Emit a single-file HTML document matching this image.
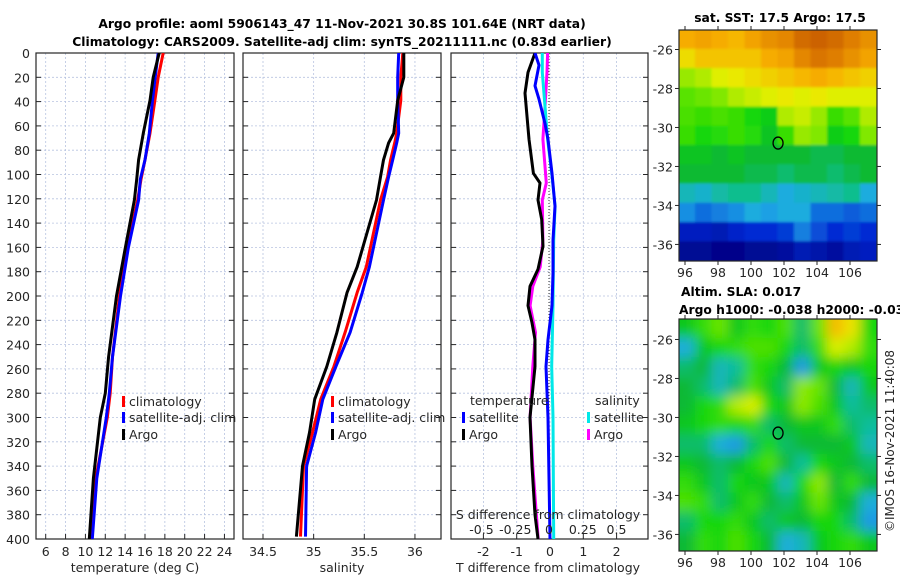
<!DOCTYPE html>
<html><head><meta charset="utf-8"><style>
body{margin:0;background:#fff;}
svg{display:block;font-family:"DejaVu Sans","Liberation Sans",sans-serif;}
</style></head><body>
<svg id="c" width="900" height="580" viewBox="0 0 900 580">
<defs>
<clipPath id="clp1"><rect x="36" y="53" width="198" height="486"/></clipPath>
<clipPath id="clp2"><rect x="243" y="53" width="198" height="486"/></clipPath>
<clipPath id="clp3"><rect x="451" y="53" width="197" height="486"/></clipPath>
<clipPath id="clpm1"><rect x="679" y="30" width="198" height="231"/></clipPath>
<clipPath id="clpm2"><rect x="679" y="319" width="198" height="232"/></clipPath>
<filter id="blur" x="-10%" y="-10%" width="120%" height="120%"><feGaussianBlur stdDeviation="6"/></filter>
<filter id="blur2" x="-10%" y="-10%" width="120%" height="120%"><feGaussianBlur stdDeviation="1.2"/></filter>
</defs>
<text x="342" y="28" text-anchor="middle" font-size="12.3" font-weight="bold">Argo profile: aoml 5906143_47 11-Nov-2021 30.8S 101.64E (NRT data)</text>
<text x="342" y="46" text-anchor="middle" font-size="12.3" font-weight="bold">Climatology: CARS2009. Satellite-adj clim: synTS_20211111.nc (0.83d earlier)</text>
<text x="780" y="22" text-anchor="middle" font-size="12.3" font-weight="bold">sat. SST: 17.5 Argo: 17.5</text>
<text x="681" y="296" font-size="12.3" font-weight="bold">Altim. SLA: 0.017</text>
<text x="679" y="314" font-size="12.3" font-weight="bold">Argo h1000: -0.038 h2000: -0.036</text>
<text x="0" y="0" transform="translate(894,441) rotate(-90)" text-anchor="middle" font-size="12" fill="#262626">©IMOS 16-Nov-2021 11:40:08</text>
<g id="g"></g>
</svg>
<script>
// ---- profile data ----
var tDepth = [0,20,39,66,88,104,121,160,200,250,280,300,350,400];
var tArgo = [17.43,16.83,16.5,15.83,15.36,15.16,14.93,14.03,13.13,12.33,12.0,11.5,10.8,10.39];
var tClim = [17.83,17.33,17.0,16.5,16.0,15.6,15.26,14.23,13.43,12.73,12.5,12.2,11.05,10.5];
var tSat = [17.33,17.03,16.76,16.43,16.0,15.53,15.36,14.33,13.53,12.73,12.4,12.1,11.15,10.69];
var sDepth = [0,20,39,66,74,88,102,121,176,197,230,258,285,312,340,398];
var sArgo = [35.89,35.89,35.83,35.79,35.74,35.69,35.66,35.62,35.43,35.33,35.23,35.13,35.01,34.96,34.89,34.83];
var sClim = [35.88,35.86,35.86,35.82,35.80,35.76,35.73,35.66,35.52,35.43,35.31,35.20,35.07,34.99,34.90,34.87];
var sSat = [35.84,35.83,35.83,35.84,35.82,35.78,35.74,35.69,35.55,35.48,35.36,35.22,35.09,35.02,34.93,34.92];
var dtArgoDepth = [0,16,33,71,99,107,121,137,159,178,192,208,222,236,258,300,340,380,400];
var dtArgo = [-0.45,-0.66,-0.75,-0.63,-0.5,-0.3,-0.36,-0.25,-0.21,-0.36,-0.6,-0.66,-0.54,-0.45,-0.45,-0.6,-0.54,-0.45,-0.36];
var dsArgoDepth = [0,16,44,71,107,121,154,176,192,208,230,258,300,340,400];
var dsArgo = [-0.01,-0.015,-0.03,-0.045,-0.02,-0.05,-0.045,-0.065,-0.12,-0.14,-0.10,-0.12,-0.14,-0.12,-0.08];
var dtSatDepth = [0,10,27,38,58,71,99,126,154,181,208,236,258,300,400];
var dtSat = [-0.45,-0.33,-0.45,-0.33,-0.15,-0.06,0.06,0.15,0.09,0.09,0.06,-0.06,-0.12,-0.06,0];
var dsSatDepth = [0,16,44,71,99,126,154,208,258,300,400];
var dsSat = [-0.05,-0.05,-0.03,-0.01,0.02,0.045,0.035,0.03,0.02,0.03,0.035];
var depthTicks = [0,20,40,60,80,100,120,140,160,180,200,220,240,260,280,300,320,340,360,380,400];
var tTicks = [6,8,10,12,14,16,18,20,22,24];
var sTicks = [34.5,35,35.5,36];
var dtTicks = [-2,-1,0,1,2];
var dsTicks = [-0.5,-0.25,0,0.25,0.5];
var dsTickLabels = ["-0.5","-0.25","0","0.25","0.5"];
var lonTicks = [96,98,100,102,104,106];
var latTicks = [-26,-28,-30,-32,-34,-36];
// ---- map grids (12 rows top->bottom, 12 cols west->east) ----
var sstGrid = [
[19.2,19.3,19.2,19.1,19.3,19.5,19.6,19.9,20,19.9,19.7,19.5],
[18.8,19,19,19,19,19.2,19.3,19.6,19.8,19.7,19.5,19.3],
[18.3,18.4,18.6,18.7,18.8,18.9,19,19.1,19.2,19.1,19,18.9],
[18,18.1,18.2,18.4,18.5,18.6,18.7,18.6,18.7,18.6,18.6,18.6],
[17.9,17.8,17.9,17.8,17.6,17.5,18.4,18.5,18.3,17.8,18,18.4],
[17.8,17.6,17.7,17.8,17.7,17.4,17.8,18.3,18.2,17.5,17.6,18.2],
[17.4,17.4,17.3,17.4,17.3,17.3,17.3,17.3,17.2,17.2,17.3,17.3],
[17.3,17.3,17.3,17.3,17.2,17.2,17.1,17.2,17.2,17.1,17.2,17.3],
[16.8,16.7,16.9,17,17,16.8,16.6,16.7,16.8,16.9,17,16.6],
[16.4,16.2,16.3,16.4,16.6,16.5,16.6,16.6,16.2,16.2,16.1,16.2],
[15.6,15.6,15.5,15.7,15.8,15.8,15.9,16.3,16,15.8,15.9,15.8],
[15.2,15.2,15.1,15.1,15.2,15.2,15.3,15.5,15.4,15.3,15.5,15.6]];
var slaGrid = [
[0.02,0.04,0.06,0.02,0.04,0.03,0.05,0.0,0.06,0.12,0.1,0.03],
[-0.03,0.02,0.03,0.04,0.05,0.05,0.03,0.0,0.04,0.09,0.08,0.04],
[0,0.01,-0.02,-0.01,0.04,0.03,0.01,-0.04,0.02,0.03,0.02,0.03],
[0.01,0.0,-0.02,0.0,0.05,0.02,0.0,0.07,0.06,0.01,-0.02,0.02],
[0.01,0.03,0.04,0.08,0.09,0.03,0.02,0.07,0.05,0.02,-0.01,0.0],
[0.02,0.03,0.04,0.03,0.04,0.0,0.01,0.02,0.02,0.04,0.0,-0.01],
[0.0,0.0,-0.03,-0.04,0.0,0.03,0.0,0.01,0.01,0.01,0.02,-0.02],
[0.02,0.01,0.0,0.01,0.03,0.05,0.01,-0.01,0.03,0.02,0.01,0.0],
[0.04,0.02,0.0,0.03,0.02,0.02,-0.02,0.03,0.07,0.01,0.04,0.01],
[0.05,0.04,0.0,0.02,0.04,0.01,0.0,0.02,0.06,0.02,0.01,-0.03],
[0.0,0.03,0.03,0.04,0.02,0.0,0.02,0.01,0.03,0.03,0.0,-0.04],
[0.01,0.04,0.03,0.05,0.03,0.01,-0.03,-0.02,0.02,0.03,0.04,0.02]];
var argoLon = 101.64, argoLat = -30.8;

var NS='http://www.w3.org/2000/svg';
var G=document.getElementById('g');
function el(tag,attrs,parent){var e=document.createElementNS(NS,tag);for(var k in attrs)e.setAttribute(k,attrs[k]);(parent||G).appendChild(e);return e;}
function txt(x,y,s,anchor,size,parent){var t=el('text',{x:x,y:y,'text-anchor':anchor||'middle','font-size':size||12,fill:'#262626'},parent);t.textContent=s;return t;}

var Y0=53,Y1=539;
function yD(d){return Y0+(d/400)*(Y1-Y0);}
function xT(t){return 45.7+(t-6)*9.93;}
function xS(s){return 263+(s-34.5)*101.3;}
function xDT(t){return 550+t*33.3;}
function xDS(s){return 549+s*135;}

function frame(x0,x1,name,vticks,vfn){
  var g=el('g',{});
  
  
  vticks.forEach(function(v){var x=vfn(v);
    var l=el('line',{x1:x,x2:x,y1:Y0,y2:Y1,stroke:'#b8c4e0','stroke-width':0.8,'stroke-dasharray':'2,2'},g);
    
    
    var tk=el('line',{x1:x,x2:x,y1:Y1,y2:Y1-5,stroke:'#262626','stroke-width':1},g);
    
    
  });
  depthTicks.forEach(function(d){var y=yD(d);
    var l=el('line',{x1:x0,x2:x1,y1:y,y2:y,stroke:'#b8c4e0','stroke-width':0.8,'stroke-dasharray':'2,2'},g);
    
    
    var t1=el('line',{x1:x0,x2:x0+5,y1:y,y2:y,stroke:'#262626'},g);
    
    
    var t2=el('line',{x1:x1-5,x2:x1,y1:y,y2:y,stroke:'#262626'},g);
    
    
  });
  var r=el('rect',{x:x0,y:Y0,width:x1-x0,height:Y1-Y0,fill:'none',stroke:'#262626','stroke-width':1.2},g);
  
  
  return g;
}
function line(xs,ds,xfn,color,name,clip,w){
  var p=xs.map(function(v,i){return xfn(v).toFixed(1)+','+yD(ds[i]).toFixed(1);}).join(' ');
  var pl=el('polyline',{points:p,fill:'none',stroke:color,'stroke-width':w||3,'stroke-linejoin':'round','clip-path':'url(#'+clip+')'});
  
  
}
function legendItem(x,y,color,label,name){
  var b=el('rect',{x:x,y:y-10,width:3,height:11,fill:color});
  
  
  var t=txt(x+7,y,label,'start',12.5);
  
  
}

// panel 1
frame(36,234,'temperature-panel',tTicks,xT);
depthTicks.forEach(function(d){var t=txt(30,yD(d)+5,String(d),'end',12.5);
  
  });
tTicks.forEach(function(v){var t=txt(xT(v),556,String(v),'middle',12.5);
  
  });
var a1=txt(135,572,'temperature (deg C)','middle',12.5);


line(tClim,tDepth,xT,'#ff0000','temp-climatology-line','clp1');
line(tSat,tDepth,xT,'#0000ff','temp-satellite-line','clp1');
line(tArgo,tDepth,xT,'#000000','temp-argo-line','clp1');
legendItem(122,406,'#ff0000','climatology','legend-climatology');
legendItem(122,422,'#0000ff','satellite-adj. clim','legend-satellite-adj');
legendItem(122,439,'#000000','Argo','legend-argo');

// panel 2
frame(243,441,'salinity-panel',sTicks,xS);
sTicks.forEach(function(v){var t=txt(xS(v),556,String(v),'middle',12.5);
  
  });
var a2=txt(342,572,'salinity','middle',12.5);


line(sClim,sDepth,xS,'#ff0000','sal-climatology-line','clp2');
line(sSat,sDepth,xS,'#0000ff','sal-satellite-line','clp2');
line(sArgo,sDepth,xS,'#000000','sal-argo-line','clp2');
legendItem(331,406,'#ff0000','climatology','legend2-climatology');
legendItem(331,422,'#0000ff','satellite-adj. clim','legend2-satellite-adj');
legendItem(331,439,'#000000','Argo','legend2-argo');

// panel 3
frame(451,648,'difference-panel',dtTicks,xDT);
var z=el('line',{x1:549,x2:549,y1:Y0,y2:Y1,stroke:'#333','stroke-width':1,'stroke-dasharray':'1,2'});


line(dsArgo,dsArgoDepth,xDS,'#ff00ff','sal-diff-argo-line','clp3');
line(dtArgo,dtArgoDepth,xDT,'#000000','temp-diff-argo-line','clp3');
line(dsSat,dsSatDepth,xDS,'#00e8e8','sal-diff-satellite-line','clp3');
line(dtSat,dtSatDepth,xDT,'#0000ff','temp-diff-satellite-line','clp3');
dtTicks.forEach(function(v){var t=txt(xDT(v),556,String(v),'middle',12.5);
  
  });
dsTicks.forEach(function(v,i){var t=txt(xDS(v),534,dsTickLabels[i],'middle',12.5);
  
  });
var a3=txt(548,572,'T difference from climatology','middle',12.5);


var a4=txt(548,519,'S difference from climatology','middle',12.5);


var lt=txt(470,405,'temperature','start',12.5);


var ls=txt(595,405,'salinity','start',12.5);


legendItem(462,422,'#0000ff','satellite','legend3-temp-satellite');
legendItem(462,439,'#000000','Argo','legend3-temp-argo');
legendItem(587,422,'#00e8e8','satellite','legend3-sal-satellite');
legendItem(587,439,'#ff00ff','Argo','legend3-sal-argo');

// colormap
var stops=[[0,[0,0,127]],[0.15,[0,40,210]],[0.3,[30,170,230]],[0.38,[16,190,150]],[0.44,[10,185,50]],[0.5,[20,215,10]],[0.6,[110,230,0]],[0.7,[232,240,0]],[0.8,[248,176,0]],[0.9,[224,128,0]],[1,[192,80,0]]];
function cmap(t){t=Math.max(0,Math.min(1,t));for(var i=1;i<stops.length;i++){if(t<=stops[i][0]){var a=stops[i-1],b=stops[i],f=(t-a[0])/(b[0]-a[0]);
  return 'rgb('+[0,1,2].map(function(k){return Math.round(a[1][k]+(b[1][k]-a[1][k])*f);}).join(',')+')';}}return 'rgb(192,80,0)';}

function drawMap(grid,x0,y0,w,h,latTop,latBot,norm,name,clip,filt){
  var lonL=96-(685-x0)/16.5, lonR=lonL+w/16.5;
  function xL(lon){return x0+(lon-lonL)/(lonR-lonL)*w;}
  function yL(lat){return y0+(latTop-lat)/(latTop-latBot)*h;}
  var g=el('g',{'clip-path':'url(#'+clip+')'});
  
  
  var gi=el('g',{filter:'url(#'+filt+')'},g);
  var nr=grid.length,nc=grid[0].length,cw=w/nc,ch=h/nr,pad=20;
  grid.forEach(function(row,r){row.forEach(function(v,c){
    var cx=x0+c*cw-0.5, cy=y0+r*ch-0.5, ww=cw+1, hh=ch+1;
    if(c===0){cx-=pad;ww+=pad;} if(c===nc-1){ww+=pad;}
    if(r===0){cy-=pad;hh+=pad;} if(r===nr-1){hh+=pad;}
    var cell=el('rect',{x:cx,y:cy,width:ww,height:hh,fill:cmap(norm(v))},gi);
    
    
  });});
  var box=el('rect',{x:x0,y:y0,width:w,height:h,fill:'none',stroke:'#262626','stroke-width':1.2});
  
  
  lonTicks.forEach(function(l){var x=xL(l);
    var t1=el('line',{x1:x,x2:x,y1:y0+h,y2:y0+h+4,stroke:'#262626'});
    
    
    var t2=el('line',{x1:x,x2:x,y1:y0,y2:y0-4,stroke:'#262626'});
    
    
    var tl=txt(x,y0+h+16,String(l),'middle',12.5);
    
    });
  latTicks.forEach(function(l){var y=yL(l);
    var t1=el('line',{x1:x0,x2:x0-4,y1:y,y2:y,stroke:'#262626'});
    
    
    var t2=el('line',{x1:x0+w,x2:x0+w+4,y1:y,y2:y,stroke:'#262626'});
    
    
    var tl=txt(x0-6,y+5,String(l),'end',12.5);
    
    });
  var m=el('ellipse',{cx:xL(argoLon),cy:yL(argoLat),rx:5,ry:6,fill:'none',stroke:'#000','stroke-width':1.3});
  
  
}
drawMap(sstGrid,679,30,198,231,-25.0,-36.85,function(v){return (v-15)/5.2;},'sst-map','clpm1','blur2');
drawMap(slaGrid,679,319,198,232,-24.95,-36.85,function(v){return (v+0.13)/0.32;},'sla-map','clpm2','blur');
</script>
</body></html>
